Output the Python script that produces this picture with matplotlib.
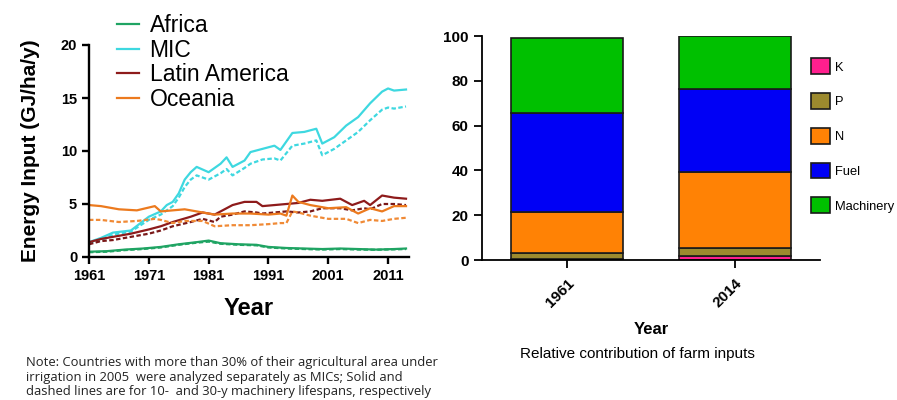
import numpy as np
import matplotlib.pyplot as plt
from matplotlib.patches import Patch

# Energy input per hectare, 1961-2014 (solid: 10-y machinery lifespan, dashed: 30-y)
africa_years = [1961, 1964, 1967, 1970, 1973, 1976, 1979, 1981, 1983, 1986, 1989,
                1991, 1994, 1997, 2000, 2003, 2006, 2009, 2012, 2014]
africa_10y = [0.5, 0.55, 0.7, 0.8, 0.95, 1.2, 1.4, 1.55, 1.3, 1.2, 1.15,
              0.95, 0.85, 0.8, 0.75, 0.8, 0.75, 0.7, 0.75, 0.8]
africa_30y = [0.45, 0.5, 0.65, 0.75, 0.9, 1.15, 1.35, 1.45, 1.25, 1.15, 1.1,
              0.9, 0.8, 0.75, 0.7, 0.75, 0.7, 0.68, 0.72, 0.75]

mic_years = [1961, 1963, 1965, 1968, 1971, 1973, 1974, 1975, 1976, 1977, 1978, 1979,
             1981, 1983, 1984, 1985, 1987, 1988, 1990, 1992, 1993, 1995, 1997, 1999,
             2000, 2002, 2004, 2006, 2008, 2010, 2011, 2012, 2014]
mic_10y = [1.4, 1.8, 2.3, 2.5, 3.8, 4.3, 4.9, 5.2, 6.0, 7.3, 8.0, 8.5,
           8.0, 8.8, 9.4, 8.5, 9.1, 9.9, 10.2, 10.5, 10.1, 11.7, 11.8, 12.1,
           10.7, 11.3, 12.4, 13.2, 14.5, 15.6, 15.9, 15.7, 15.8]
mic_30y = [1.3, 1.6, 2.1, 2.4, 3.5, 4.0, 4.4, 4.8, 5.6, 6.6, 7.3, 7.7,
           7.3, 7.9, 8.3, 7.7, 8.4, 8.8, 9.2, 9.3, 9.1, 10.5, 10.7, 11.0,
           9.6, 10.2, 11.0, 11.8, 12.9, 13.9, 14.1, 14.0, 14.2]

latam_years = [1961, 1963, 1965, 1968, 1971, 1973, 1975, 1978, 1980, 1982, 1983, 1985,
               1987, 1989, 1990, 1992, 1994, 1996, 1998, 2000, 2003, 2005, 2007, 2008,
               2010, 2012, 2014]
latam_10y = [1.4, 1.7, 1.9, 2.2, 2.6, 2.9, 3.3, 3.8, 4.2, 4.0, 4.3, 4.9,
             5.2, 5.2, 4.8, 4.9, 5.0, 5.1, 5.4, 5.3, 5.5, 4.9, 5.3, 4.9,
             5.8, 5.6, 5.5]
latam_30y = [1.2, 1.5, 1.6, 1.9, 2.2, 2.5, 2.9, 3.3, 3.6, 3.3, 3.8, 4.0,
             4.3, 4.2, 4.1, 4.2, 4.3, 4.2, 4.3, 4.6, 4.6, 4.4, 4.6, 4.5,
             5.0, 5.0, 4.9]

oceania_years = [1961, 1963, 1966, 1969, 1972, 1973, 1975, 1977, 1980, 1982, 1985,
                 1988, 1991, 1993, 1994, 1995, 1996, 1998, 2001, 2004, 2006, 2008,
                 2010, 2012, 2014]
oceania_10y = [4.9, 4.8, 4.5, 4.4, 4.8, 4.3, 4.4, 4.5, 4.2, 4.0, 4.1,
               4.1, 4.0, 4.1, 3.9, 5.8, 5.2, 4.9, 4.6, 4.7, 4.1, 4.6,
               4.3, 4.8, 4.8]
oceania_30y = [3.5, 3.5, 3.3, 3.4, 3.6, 3.5, 3.2, 3.4, 3.4, 2.9, 3.0,
               3.0, 3.1, 3.2, 3.2, 4.3, 4.2, 3.9, 3.6, 3.6, 3.2, 3.5,
               3.4, 3.6, 3.7]

# Relative contribution (%) of farm inputs
bar_years = ['1961', '2014']
shares = {
    'K': [0.5, 1.8],
    'P': [2.5, 3.5],
    'N': [18.5, 34.2],
    'Fuel': [44.0, 36.7],
    'Machinery': [33.5, 23.8],
}
input_colors = {'K': '#ff1f8e', 'P': '#9c8a2e', 'N': '#ff8205',
                'Fuel': '#0000f5', 'Machinery': '#00c000'}

note = ("Note: Countries with more than 30% of their agricultural area under\n"
        "irrigation in 2005  were analyzed separately as MICs; Solid and\n"
        "dashed lines are for 10-  and 30-y machinery lifespans, respectively")

plt.rcParams['font.family'] = ['Liberation Sans', 'DejaVu Sans']

fig = plt.figure(figsize=(8.97, 4.0), dpi=100)

# ---- left: energy input lines ----
ax = fig.add_axes([89 / 897, 1 - 257 / 400, (409 - 89) / 897, (257 - 45) / 400])
dash = (0, (2.0, 1.1))
series = [
    ('Africa', africa_years, africa_10y, africa_30y, '#1fa463', '#1fa463'),
    ('MIC', mic_years, mic_10y, mic_30y, '#3ed8e0', '#3ed8e0'),
    ('Latin America', latam_years, latam_10y, latam_30y, '#8e1b1b', '#7a1818'),
    ('Oceania', oceania_years, oceania_10y, oceania_30y, '#ec7a1e', '#f08a36'),
]
handles = []
for name, yrs, solid, dashed, c1, c2 in series:
    h, = ax.plot(yrs, solid, color=c1, lw=1.6, label=name)
    ax.plot(yrs, dashed, color=c2, lw=1.6, ls=dash)
    handles.append(h)

ax.set_xlim(1961, 2014.5)
ax.set_ylim(0, 20)
ax.set_xticks([1961, 1971, 1981, 1991, 2001, 2011])
ax.set_yticks([0, 5, 10, 15, 20])
for s in ['top', 'right']:
    ax.spines[s].set_visible(False)
for s in ['left', 'bottom']:
    ax.spines[s].set_linewidth(1.7)
ax.tick_params(width=1.7, length=5, labelsize=10.5)
for lab in ax.get_xticklabels() + ax.get_yticklabels():
    lab.set_fontweight('bold')
ax.set_xlabel('Year', fontsize=17, fontweight='bold', labelpad=10)
ax.set_ylabel('Energy Input (GJ/ha/y)', fontsize=15, fontweight='bold', labelpad=15)

fig.legend(handles=handles, loc='upper left', bbox_to_anchor=(106 / 897, 1 - 3 / 400),
           frameon=False, fontsize=16.5, handlelength=0.95, handletextpad=0.45,
           labelspacing=0.06, borderpad=0)

# ---- right: stacked bars ----
bx = fig.add_axes([482 / 897, 1 - 260 / 400, (820 - 482) / 897, (260 - 36) / 400])
x = np.arange(len(bar_years))
bottom = np.zeros(len(bar_years))
bar_handles = {}
for key in ['K', 'P', 'N', 'Fuel', 'Machinery']:
    vals = np.array(shares[key])
    bx.bar(x, vals, bottom=bottom, width=0.67, color=input_colors[key],
           edgecolor='#1a1a1a', linewidth=1.2)
    bar_handles[key] = Patch(facecolor=input_colors[key], edgecolor='#1a1a1a', linewidth=1.2)
    bottom += vals

bx.set_xlim(-0.506, 1.506)
bx.set_ylim(0, 100)
bx.set_yticks([0, 20, 40, 60, 80, 100])
bx.set_xticks(x)
bx.set_xticklabels(bar_years, rotation=45, ha='right', rotation_mode='anchor')
for s in ['top', 'right']:
    bx.spines[s].set_visible(False)
for s in ['left', 'bottom']:
    bx.spines[s].set_linewidth(1.3)
bx.tick_params(width=1.3, length=6, labelsize=11)
bx.tick_params(axis='x', pad=6)
for lab in bx.get_xticklabels() + bx.get_yticklabels():
    lab.set_fontweight('bold')
bx.set_xlabel('Year', fontsize=12, fontweight='bold', labelpad=8)

order = ['K', 'P', 'N', 'Fuel', 'Machinery']
fig.legend([bar_handles[k] for k in order], order, loc='upper left',
           bbox_to_anchor=(805 / 897, 1 - 52 / 400), frameon=False,
           fontsize=9.3, handlelength=1.45, handleheight=1.5, handletextpad=0.4,
           labelspacing=1.47, borderpad=0)

fig.text(637 / 897, 1 - 354 / 400, 'Relative contribution of farm inputs',
         ha='center', va='center', fontsize=11)
fig.text(26 / 897, 1 - 377 / 400, note, ha='left', va='center', fontsize=9.4,
         linespacing=1.13, color='#222222', family=['Open Sans', 'DejaVu Sans'])

fig.savefig('out.png', dpi=100)
